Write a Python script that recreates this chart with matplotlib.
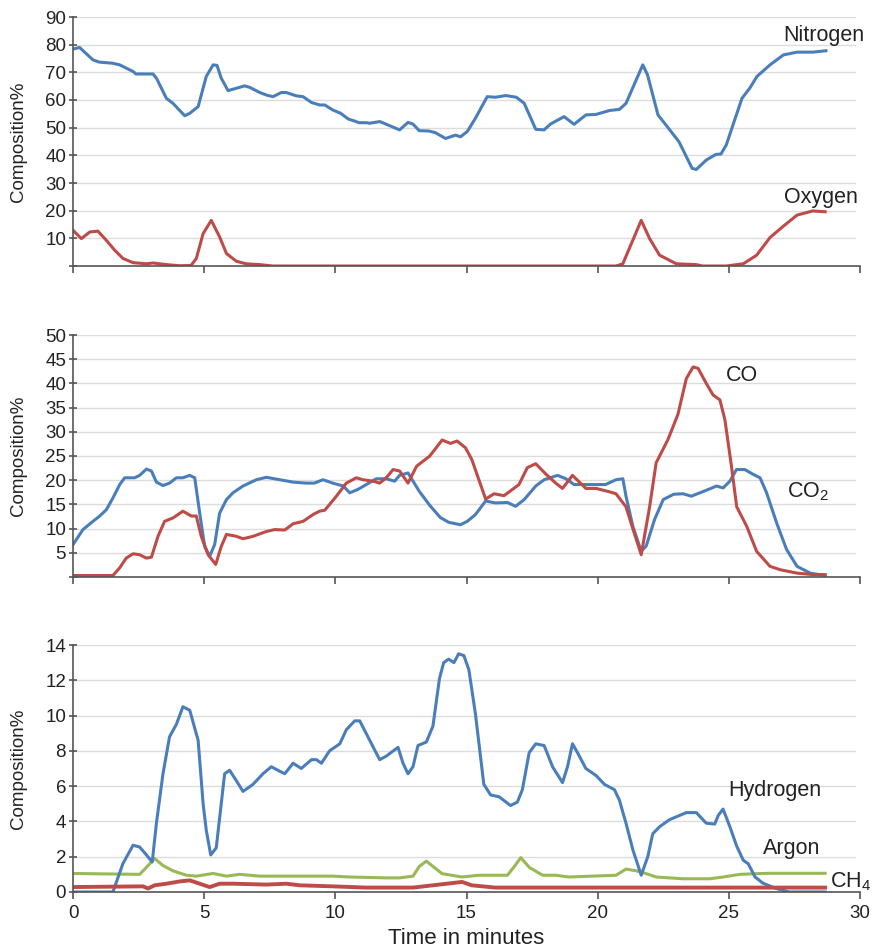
import matplotlib
matplotlib.use("Agg")
import matplotlib.pyplot as plt

plt.rcParams['font.family'] = ['Liberation Sans', 'DejaVu Sans']
plt.rcParams['mathtext.fontset'] = 'custom'
plt.rcParams['mathtext.rm'] = 'Liberation Sans'

BLUE = '#4a7ebb'
RED = '#be4b48'
GREEN = '#98b954'

# ---- Panel 1: Nitrogen / Oxygen ----
n2_t = [0, 0.25, 0.76, 1.0, 1.5, 1.78, 2.29, 2.4, 2.92, 3.05, 3.18, 3.56, 3.81, 4.26, 4.45, 4.77, 5.08, 5.34,
        5.49, 5.65, 5.91, 6.1, 6.54, 6.73, 7.12, 7.37, 7.62, 7.94, 8.13, 8.51, 8.77, 9.09, 9.4, 9.6, 9.9, 10.2,
        10.5, 10.7, 10.9, 11.2, 11.3, 11.7, 12.0, 12.45, 12.77, 12.96, 13.2, 13.56, 13.81, 14.2, 14.58, 14.77,
        15.03, 15.34, 15.79, 16.1, 16.5, 16.9, 17.2, 17.64, 17.96, 18.2, 18.72, 19.1, 19.55, 19.94, 20.45,
        20.83, 21.08, 21.72, 21.9, 22.3, 22.6, 23.1, 23.6, 23.76, 24.14, 24.5, 24.7, 24.9, 25.5, 25.8, 26.07,
        26.57, 27.08, 27.6, 28.2, 28.7]
n2_v = [78.4, 79.0, 74.5, 73.7, 73.3, 72.7, 70.3, 69.4, 69.4, 69.4, 67.9, 60.6, 58.8, 54.3, 55.2, 57.6, 68.5, 72.7,
        72.5, 67.9, 63.4, 63.9, 65.1, 64.6, 62.7, 61.8, 61.2, 62.7, 62.7, 61.5, 61.2, 59.1, 58.2, 58.2, 56.4, 55.2,
        53.1, 52.5, 51.8, 51.8, 51.6, 52.2, 51.0, 49.2, 51.9, 51.3, 48.9, 48.8, 48.2, 46.1, 47.3, 46.7,
        48.6, 53.4, 61.2, 61.0, 61.6, 61.0, 58.8, 49.4, 49.2, 51.3, 54.0, 51.2, 54.6, 54.8, 56.2,
        56.6, 58.8, 72.7, 69.1, 54.6, 51.0, 44.9, 35.3, 34.9, 38.3, 40.3, 40.5, 43.7, 60.6, 64.3, 68.5,
        72.7, 76.3, 77.3, 77.3, 77.8]

o2_t = [0, 0.32, 0.64, 0.95, 1.27, 1.59, 1.91, 2.29, 2.8, 3.05, 3.56, 4.07, 4.5, 4.7, 4.96, 5.27, 5.59, 5.85,
        6.23, 6.6, 7.12, 7.62, 20.7, 20.96, 21.66, 21.98, 22.36, 23.0, 23.76, 24.0, 24.9, 25.55, 26.06, 26.57,
        27.08, 27.6, 28.2, 28.67]
o2_v = [12.9, 9.9, 12.3, 12.6, 9.3, 5.7, 2.7, 1.2, 0.8, 1.1, 0.5, 0.1, 0.2, 2.7, 11.7, 16.5, 10.5, 4.5,
        1.7, 0.8, 0.5, 0.0, 0.0, 0.8, 16.5, 9.9, 3.9, 0.8, 0.5, 0.0, 0.0, 0.8, 3.9, 10.3,
        14.4, 18.4, 19.9, 19.6]

# ---- Panel 2: CO / CO2 ----
co2_t = [0, 0.38, 0.76, 1.02, 1.27, 1.52, 1.78, 1.97, 2.35, 2.54, 2.8, 2.99, 3.18, 3.43, 3.68, 3.94, 4.19, 4.45,
         4.64, 4.83, 5.02, 5.21, 5.4, 5.59, 5.85, 6.1, 6.48, 6.99, 7.37, 7.88, 8.39, 8.89, 9.2, 9.53, 9.9, 10.3,
         10.55, 10.86, 11.18, 11.56, 11.94, 12.26, 12.45, 12.77, 13.2, 13.6, 14.0, 14.32, 14.77, 15.03, 15.34,
         15.73, 16.1, 16.56, 16.87, 17.2, 17.64, 17.96, 18.47, 18.79, 19.1, 19.68, 20.3, 20.7, 20.96, 21.08,
         21.34, 21.66, 21.85, 22.17, 22.5, 22.9, 23.25, 23.57, 23.9, 24.27, 24.53, 24.78, 25.04, 25.29, 25.61,
         25.93, 26.19, 26.44, 26.82, 27.2, 27.6, 28.1, 28.67]
co2_v = [6.7, 9.8, 11.5, 12.6, 13.9, 16.3, 19.1, 20.5, 20.5, 21.0, 22.3, 21.9, 19.6, 18.9, 19.4, 20.5, 20.5, 21.0,
         20.5, 13.2, 6.3, 4.3, 6.7, 13.2, 16.0, 17.4, 18.8, 20.1, 20.6, 20.1, 19.6, 19.4, 19.4, 20.1, 19.4, 18.8,
         17.4, 18.1, 19.1, 20.3, 20.3, 19.8, 21.0, 21.5, 17.7, 14.8, 12.3, 11.3, 10.8, 11.5, 12.9,
         15.7, 15.3, 15.4, 14.6, 16.0, 18.8, 20.1, 21.0, 20.3, 19.1, 19.1, 19.1, 20.1, 20.3, 16.7,
         10.5, 5.3, 6.4, 11.9, 16.0, 17.1, 17.2, 16.7, 17.4, 18.2, 18.8, 18.4, 19.8, 22.2, 22.2,
         21.2, 20.5, 17.4, 11.2, 5.7, 2.2, 0.8, 0.3]

co_t = [0, 1.52, 1.78, 2.03, 2.29, 2.54, 2.8, 2.99, 3.24, 3.49, 3.81, 4.19, 4.51, 4.7, 4.89, 5.15, 5.44, 5.65,
        5.85, 6.23, 6.48, 6.86, 7.37, 7.69, 8.07, 8.39, 8.77, 9.15, 9.4, 9.6, 10.04, 10.42, 10.8, 11.05, 11.44,
        11.69, 11.94, 12.2, 12.45, 12.77, 13.1, 13.6, 14.07, 14.39, 14.64, 14.96, 15.2, 15.73, 16.05, 16.43,
        17.0, 17.32, 17.64, 18.0, 18.4, 18.66, 19.04, 19.55, 19.94, 20.45, 20.7, 21.08, 21.34, 21.66, 21.98,
        22.23, 22.68, 23.06, 23.38, 23.64, 23.83, 24.14, 24.4, 24.66, 24.85, 25.1, 25.3, 25.68, 26.06, 26.57,
        26.96, 27.6, 28.2, 28.67]
co_v = [0.3, 0.3, 1.9, 3.9, 4.8, 4.6, 3.9, 4.1, 8.4, 11.5, 12.2, 13.6, 12.6, 12.6, 8.4, 4.6, 2.6, 6.3,
        8.8, 8.4, 7.9, 8.4, 9.4, 9.8, 9.7, 11.0, 11.5, 12.9, 13.6, 13.8, 16.7, 19.4, 20.5, 20.1, 19.8,
        19.4, 20.5, 22.2, 21.9, 19.4, 22.9, 25.0, 28.3, 27.6, 28.1, 26.7, 24.3, 16.1, 17.2, 16.8,
        19.1, 22.6, 23.4, 21.4, 19.4, 18.3, 21.0, 18.3, 18.3, 17.6, 17.2, 14.5, 10.0, 4.6, 14.5,
        23.6, 28.4, 33.6, 41.0, 43.4, 43.1, 40.0, 37.6, 36.6, 32.5, 22.9, 14.5, 10.5, 5.3, 2.2,
        1.5, 0.8, 0.5, 0.5]

# ---- Panel 3: Hydrogen / Argon / CH4 ----
h2_t = [0, 1.52, 1.9, 2.29, 2.54, 2.8, 3.02, 3.18, 3.43, 3.68, 3.94, 4.19, 4.45, 4.77, 4.96, 5.08, 5.25, 5.46,
        5.78, 5.97, 6.23, 6.48, 6.86, 7.24, 7.56, 7.81, 8.07, 8.39, 8.7, 9.09, 9.28, 9.47, 9.78, 10.17, 10.42,
        10.74, 10.93, 11.31, 11.69, 11.94, 12.39, 12.58, 12.77, 12.96, 13.15, 13.47, 13.72, 13.97, 14.13, 14.32,
        14.52, 14.7, 14.9, 15.09, 15.34, 15.66, 15.92, 16.24, 16.68, 16.94, 17.13, 17.39, 17.64, 17.96, 18.28,
        18.66, 18.85, 19.04, 19.23, 19.55, 19.94, 20.26, 20.64, 20.83, 21.08, 21.34, 21.66, 21.91, 22.1, 22.36,
        22.74, 23.06, 23.38, 23.76, 24.14, 24.46, 24.6, 24.78, 25.04, 25.3, 25.55, 25.74, 26.0, 26.3, 26.8,
        27.3, 28.67]
h2_v = [0.0, 0.0, 1.6, 2.65, 2.55, 2.1, 1.7, 3.9, 6.7, 8.8, 9.5, 10.5, 10.3, 8.6, 5.0, 3.5, 2.1, 2.5,
        6.7, 6.9, 6.3, 5.7, 6.1, 6.7, 7.1, 6.9, 6.7, 7.3, 7.0, 7.5, 7.5, 7.3, 8.0, 8.4, 9.2,
        9.7, 9.7, 8.6, 7.5, 7.7, 8.2, 7.3, 6.7, 7.1, 8.3, 8.5, 9.4, 12.1, 13.0, 13.2,
        13.0, 13.5, 13.4, 12.6, 10.1, 6.1, 5.5, 5.4, 4.9, 5.1, 5.8, 7.9, 8.4, 8.3, 7.1,
        6.2, 7.1, 8.4, 7.9, 7.0, 6.6, 6.1, 5.8, 5.2, 3.9, 2.4, 0.95, 2.0, 3.3, 3.7,
        4.1, 4.3, 4.5, 4.5, 3.9, 3.85, 4.35, 4.7, 3.7, 2.6, 1.8, 1.6, 0.85, 0.5, 0.2,
        0.0, 0.0]

ar_t = [0, 2.54, 2.8, 3.11, 3.43, 3.81, 4.32, 4.7, 5.34, 5.85, 6.35, 7.12, 9.9, 10.55, 11.94, 12.45, 12.96,
        13.2, 13.47, 13.72, 14.07, 14.83, 15.47, 16.56, 16.8, 17.07, 17.39, 17.9, 18.4, 18.9, 20.7, 21.08,
        21.47, 21.85, 22.23, 23.25, 24.27, 24.78, 25.42, 26.06, 26.57, 28.67]
ar_v = [1.05, 1.0, 1.4, 1.9, 1.5, 1.2, 0.95, 0.9, 1.05, 0.9, 1.0, 0.9, 0.9, 0.85, 0.8, 0.8, 0.9,
        1.45, 1.75, 1.45, 1.04, 0.85, 0.95, 0.95, 1.4, 1.95, 1.4, 0.95, 0.95, 0.85, 0.95, 1.3,
        1.2, 1.04, 0.85, 0.75, 0.75, 0.85, 1.0, 1.04, 1.06, 1.06]

ch4_t = [0, 2.67, 2.86, 3.11, 3.56, 4.07, 4.45, 4.83, 5.21, 5.59, 6.1, 7.37, 8.13, 8.64, 9.9, 11.18, 12.96,
         13.72, 14.07, 14.83, 15.2, 16.1, 28.67]
ch4_v = [0.28, 0.32, 0.2, 0.38, 0.47, 0.6, 0.66, 0.47, 0.28, 0.47, 0.47, 0.42, 0.47, 0.38, 0.32, 0.25, 0.25,
         0.38, 0.44, 0.57, 0.38, 0.25, 0.25]

W, H = 872, 949
fig = plt.figure(figsize=(W / 100, H / 100), dpi=100)

AX_LEFT, AX_RIGHT = 73, 860

def px_axes(top, bottom, left=AX_LEFT, right=AX_RIGHT):
    return fig.add_axes([left / W, 1 - bottom / H, (right - left) / W, (bottom - top) / H])

ax1 = px_axes(17, 266)
ax2 = px_axes(335, 577)
ax3 = px_axes(645, 892)

SPINE = '#555555'
GRID = '#dcdcdc'
TXT = '#222222'
TICKFS = 13.5
LABFS = 15.5

def style(ax, ymax, ystep, show_zero, show_xlabels):
    ax.set_xlim(0, 30)
    ax.set_ylim(0, ymax)
    ticks = list(range(0, ymax + 1, ystep))
    ax.set_yticks(ticks)
    ax.set_yticklabels([str(t) if (t != 0 or show_zero) else '' for t in ticks])
    ax.set_xticks(range(0, 31, 5))
    if not show_xlabels:
        ax.set_xticklabels([])
    for s in ['top', 'right']:
        ax.spines[s].set_visible(False)
    for s in ['left', 'bottom']:
        ax.spines[s].set_color(SPINE)
        ax.spines[s].set_linewidth(1.2)
    ax.set_axisbelow(True)
    for t in ticks[1:]:
        ax.axhline(t, xmin=0, xmax=29.8 / 30, color=GRID, lw=1.0, zorder=0)
    ax.tick_params(axis='y', direction='inout', length=6, width=1.2, color=SPINE,
                   labelsize=TICKFS, labelcolor=TXT, pad=2)
    ax.tick_params(axis='x', direction='out', length=5, width=1.2, color=SPINE,
                   labelsize=TICKFS, labelcolor=TXT, pad=4)
    ax.set_ylabel('Composition%', fontsize=13.5, color=TXT)
    ax.yaxis.set_label_coords((27 - AX_LEFT) / (AX_RIGHT - AX_LEFT), 0.5)
    ax.patch.set_alpha(0)

LW = 2.2
style(ax1, 90, 10, False, False)
ax1.plot(n2_t, n2_v, color=BLUE, lw=LW, solid_joinstyle='round')
ax1.plot(o2_t, o2_v, color=RED, lw=LW, solid_joinstyle='round')
ax1.text(27.07, 83.4, 'Nitrogen', fontsize=LABFS, va='center', ha='left', color=TXT, clip_on=False)
ax1.text(27.1, 24.9, 'Oxygen', fontsize=LABFS, va='center', ha='left', color=TXT, clip_on=False)

style(ax2, 50, 5, False, False)
ax2.plot(co2_t, co2_v, color=BLUE, lw=LW, solid_joinstyle='round')
ax2.plot(co_t, co_v, color=RED, lw=LW, solid_joinstyle='round')
ax2.text(24.9, 41.7, 'CO', fontsize=LABFS, va='center', ha='left', color=TXT, clip_on=False)
ax2.text(27.2, 17.6, r'CO$_\mathregular{2}$', fontsize=LABFS, va='center', ha='left', color=TXT, clip_on=False)

style(ax3, 14, 2, True, True)
ax3.plot(ar_t, ar_v, color=GREEN, lw=LW, solid_joinstyle='round')
ax3.plot(h2_t, h2_v, color=BLUE, lw=LW, solid_joinstyle='round')
ax3.plot(ch4_t, ch4_v, color=RED, lw=2.8, solid_joinstyle='round')
ax3.text(24.97, 5.73, 'Hydrogen', fontsize=LABFS, va='center', ha='left', color=TXT, clip_on=False)
ax3.text(26.3, 2.44, 'Argon', fontsize=LABFS, va='center', ha='left', color=TXT, clip_on=False)
ax3.text(28.86, 0.6, r'CH$_\mathregular{4}$', fontsize=LABFS, va='center', ha='left', color=TXT, clip_on=False)
ax3.set_xlabel('Time in minutes', fontsize=16, color=TXT, labelpad=5)

fig.savefig('out.png', dpi=100)
